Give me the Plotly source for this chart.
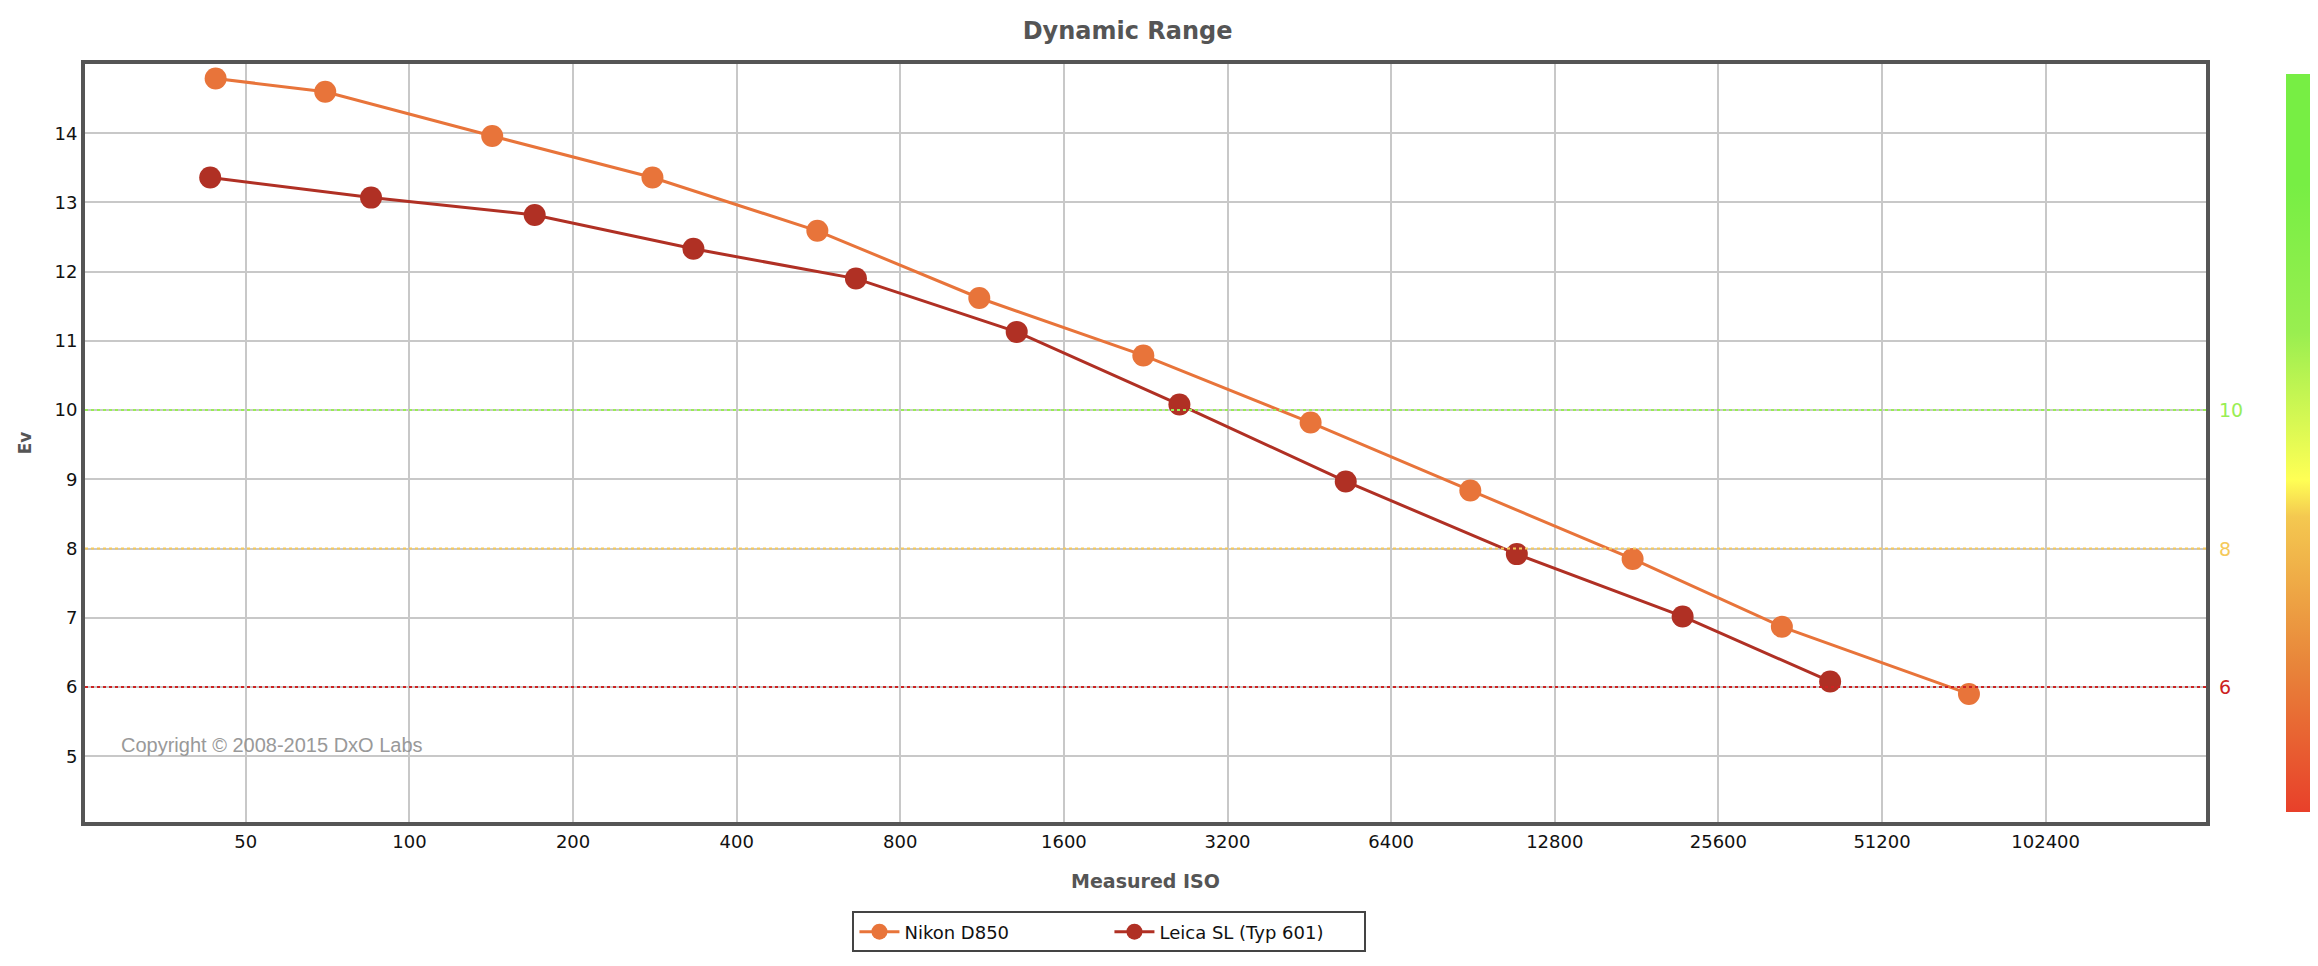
import plotly.graph_objects as go
import math

nikon_iso = [44, 70, 142, 280, 563, 1118, 2240, 4550, 8950, 17800, 33500, 74000]
nikon_dr = [14.79, 14.60, 13.96, 13.36, 12.59, 11.62, 10.79, 9.82, 8.84, 7.85, 6.87, 5.90]
leica_iso = [43, 85, 170, 333, 663, 1310, 2610, 5280, 10900, 22000, 41100]
leica_dr = [13.36, 13.07, 12.82, 12.33, 11.90, 11.13, 10.08, 8.97, 7.92, 7.02, 6.08]
tick_iso = [50, 100, 200, 400, 800, 1600, 3200, 6400, 12800, 25600, 51200, 102400]
ref_levels = [10, 8, 6]
ref_colors = ["#99ee55", "#f5c95a", "#cc2222"]

xr = [math.log10(25.3), math.log10(202000)]
yr = [4.05, 15.0]

fig = go.Figure()
fig.add_trace(go.Scatter(x=nikon_iso, y=nikon_dr, mode="lines+markers", name="Nikon D850",
                         line=dict(color="#e8743a", width=3), marker=dict(size=22, color="#e8743a")))
fig.add_trace(go.Scatter(x=leica_iso, y=leica_dr, mode="lines+markers", name="Leica SL (Typ 601)",
                         line=dict(color="#b03024", width=3), marker=dict(size=22, color="#b03024")))
fig.add_trace(go.Scatter(x=[tick_iso[0]], y=[None], mode="markers", showlegend=False, hoverinfo="skip",
                         marker=dict(size=0.1, color=[5], cmin=yr[0], cmax=yr[1], showscale=True,
                                     colorscale=[[0, "#e8402a"], [0.2, "#e8853a"], [0.4, "#f4c850"],
                                                 [0.45, "#ffff55"], [0.65, "#99ee50"], [0.85, "#77ee44"], [1, "#77ee44"]],
                                     colorbar=dict(x=1.033, xanchor="left", y=0, yanchor="bottom", len=1,
                                                   thickness=24, outlinewidth=0, showticklabels=False, ticks=""))))

for lv, c in zip(ref_levels, ref_colors):
    fig.add_shape(type="line", xref="paper", x0=0, x1=1, y0=lv, y1=lv,
                  line=dict(color=c, width=2, dash="dot"))
    fig.add_annotation(xref="paper", x=1.005, xanchor="left", y=lv, text=str(lv), showarrow=False,
                       font=dict(color=c, size=19, family="DejaVu Sans"))

fig.add_annotation(xref="paper", yref="paper", x=0.016, y=0.085, xanchor="left", showarrow=False,
                   text="Copyright © 2008-2015 DxO Labs", font=dict(color="#999999", size=20, family="Liberation Sans"))

fig.update_layout(
    width=2318, height=966, paper_bgcolor="white", plot_bgcolor="white",
    margin=dict(l=77, r=120, t=56, b=152, autoexpand=False),
    title=dict(text="<b>Dynamic Range</b>", x=0.483, xanchor="center", y=0.985, yanchor="top",
               font=dict(size=24, color="#555555", family="DejaVu Sans")),
    font=dict(family="DejaVu Sans", size=18, color="#111111"),
    legend=dict(orientation="h", x=0.483, xanchor="center", y=-0.118, yanchor="top",
                bordercolor="#444444", borderwidth=2, font=dict(size=18), itemwidth=40,
                entrywidth=200),
    showlegend=True,
)
fig.update_xaxes(type="log", range=xr, tickvals=tick_iso, ticktext=[str(t) for t in tick_iso],
                 showgrid=True, gridcolor="#c8c8c8", gridwidth=1.5, showline=True, linecolor="#555555",
                 linewidth=4, mirror=True, ticks="", zeroline=False, automargin=False,
                 title=dict(text="<b>Measured ISO</b>", font=dict(size=19, color="#555555"), standoff=25))
fig.update_yaxes(range=yr, tickvals=[5, 6, 7, 8, 9, 10, 11, 12, 13, 14], showgrid=True, gridcolor="#c8c8c8",
                 gridwidth=1.5, showline=True, linecolor="#555555", linewidth=4, mirror=True, ticks="",
                 zeroline=False, automargin=False,
                 title=dict(text="<b>Ev</b>", font=dict(size=17, color="#555555"), standoff=20))
fig.write_html("out.html")
